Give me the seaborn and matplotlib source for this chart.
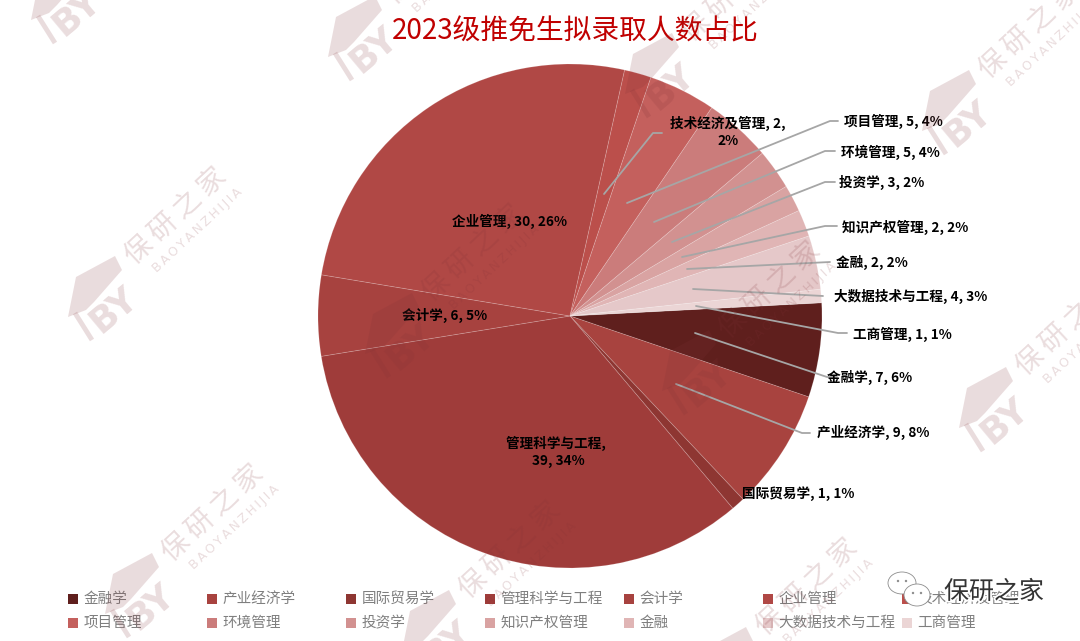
#!/usr/bin/env python3
"""2023 recommended admission share, pie chart with leader lines and watermark"""
import matplotlib
matplotlib.use("Agg")
import matplotlib.pyplot as plt
import matplotlib.patheffects as pe
from matplotlib.patches import Ellipse, Polygon
import seaborn as sns

majors = ["金融学", "产业经济学", "国际贸易学", "管理科学与工程", "会计学", "企业管理", "技术经济及管理",
          "项目管理", "环境管理", "投资学", "知识产权管理", "金融", "大数据技术与工程", "工商管理"]
counts = [7, 9, 1, 39, 6, 30, 2, 5, 5, 3, 2, 2, 4, 1]
shares = [6, 8, 1, 34, 5, 26, 2, 4, 4, 2, 2, 2, 3, 1]
slice_colors = ["#5F1F1D", "#A8433F", "#8E3632", "#9F3C3A", "#A7423F", "#B04845", "#BB4F4B",
                "#C4605D", "#CB7C7B", "#D29190", "#D9A3A2", "#E0B5B5", "#E5C8C9", "#EBD5D5"]
title = "2023级推免生拟录取人数占比"

W, H = 1080, 641
CJK = ["Noto Sans CJK SC", "DejaVu Sans"]

sns.set_theme(style="white")
plt.rcParams["font.family"] = CJK


def flip(pts):
    # picture coordinates have y going down
    return [(x, H - y) for x, y in pts]


# label centre and leader line in picture pixels, same order as majors
label_layout = [
    ((870, 377), [(695, 333), (827, 377), (837, 377)]),
    ((873, 432), [(676, 384), (802, 433), (810, 433)]),
    ((798, 494), None),
    ((558, 452), None),
    ((445, 315), None),
    ((509, 221), None),
    ((728, 132), [(604, 194), (653, 133), (662, 133)]),
    ((893, 121), [(627, 203), (830, 121), (838, 121)]),
    ((890, 152), [(654, 222), (825, 151), (835, 151)]),
    ((882, 182), [(672, 242), (825, 182), (835, 182)]),
    ((905, 227), [(682, 257), (825, 226), (837, 226)]),
    ((872, 262), [(687, 269), (830, 262)]),
    ((911, 296), [(693, 289), (823, 296)]),
    ((902, 334), [(696, 306), (838, 333), (847, 333)]),
]
wrapped = {"管理科学与工程": "{}, \n{}, {}%", "技术经济及管理": "{}, {},\n{}%"}

# watermark lattice, bottom left corner of each logo
logo_spots = [(31, 43), (328, 80), (625, 117), (922, 154), (68, 340), (365, 377),
              (662, 414), (959, 451), (105, 637), (402, 674), (699, 711)]
hat = [(47, -84), (54, -70), (26, -38), (18, -30), (0, -23), (8, -63)]


def draw_watermark(ax, x0, y0):
    ink = "#823238"
    alpha = 0.17
    ax.add_patch(Polygon(flip([(x0 + dx, y0 + dy) for dx, dy in hat]), closed=True,
                         fc=ink, ec="none", alpha=alpha, zorder=8))
    ax.plot([x0 + 7, x0 + 24], [H - (y0 - 27), H - y0], color=ink, alpha=alpha, lw=3.5,
            solid_capstyle="butt", zorder=8)
    ax.text(x0 + 46, H - (y0 - 30), "BY", fontsize=26, fontweight="bold", color=ink, alpha=alpha,
            rotation=40, rotation_mode="anchor", ha="center", va="center", zorder=8,
            family="DejaVu Sans", clip_on=True)
    ax.text(x0 + 108, H - (y0 - 124), "\u2009".join("保研之家"), fontsize=20, color=ink, alpha=alpha,
            rotation=43, rotation_mode="anchor", ha="center", va="center", zorder=8, clip_on=True)
    ax.text(x0 + 129, H - (y0 - 110), "\u2009".join("BAOYANZHIJIA"), fontsize=9, color=ink, alpha=alpha,
            rotation=43, rotation_mode="anchor", ha="center", va="center", zorder=8,
            family="DejaVu Sans", clip_on=True)


fig = plt.figure(figsize=(W / 100, H / 100), dpi=100)
ax = fig.add_axes([0, 0, 1, 1])

palette = sns.color_palette(slice_colors)
ax.pie(counts, colors=palette, startangle=3, counterclock=False, center=(570, H - 316), radius=252,
       frame=True, wedgeprops={"edgecolor": (1, 1, 1, 0.18), "linewidth": 0.6})
ax.set_xlim(0, W)
ax.set_ylim(0, H)
ax.set_aspect("equal")
ax.axis("off")

ax.text(575, H - 32, title, fontsize=20, color="#C00000", ha="center", va="center")

for name, n, pct, (pos, leader) in zip(majors, counts, shares, label_layout):
    if leader:
        pts = flip(leader)
        ax.plot([p[0] for p in pts], [p[1] for p in pts], color="#A6A6A6", lw=1.3, zorder=4)
    fmt = wrapped.get(name, "{}, {}, {}%")
    ax.text(pos[0], H - pos[1], fmt.format(name, n, pct), fontsize=9.8, fontweight="bold", color="black",
            ha="center", va="center", linespacing=1.2, zorder=5)

# legend runs across two rows of seven
for i, (name, col) in enumerate(zip(majors, palette)):
    row, column = divmod(i, 7)
    lx = 72.5 + column * 139
    ly = H - (599 + row * 24)
    ax.scatter([lx], [ly], marker="s", s=46, color=col, linewidths=0, zorder=3)
    ax.text(lx + 11, ly, name, fontsize=10.5, color="#7F7F7F", ha="left", va="center", zorder=3)

for x0, y0 in logo_spots:
    draw_watermark(ax, x0, y0)

# channel badge, bottom right
for cx, cy, rx, ry in [(902, 583, 14, 11), (917, 595, 13, 11)]:
    ax.add_patch(Ellipse((cx, H - cy), rx * 2, ry * 2, fc="white", ec="#8C8C8C", lw=0.6, zorder=9))
    for off in (-4, 4):
        ax.add_patch(Ellipse((cx + off, H - cy + 2), 2.4, 2.4, fc="#8C8C8C", ec="none", zorder=9))
ax.text(994, H - 592, "保研之家", fontsize=18, color="#333333", ha="center", va="center", zorder=9,
        path_effects=[pe.withStroke(linewidth=2.5, foreground="white")])

fig.savefig("out.png", dpi=100)
